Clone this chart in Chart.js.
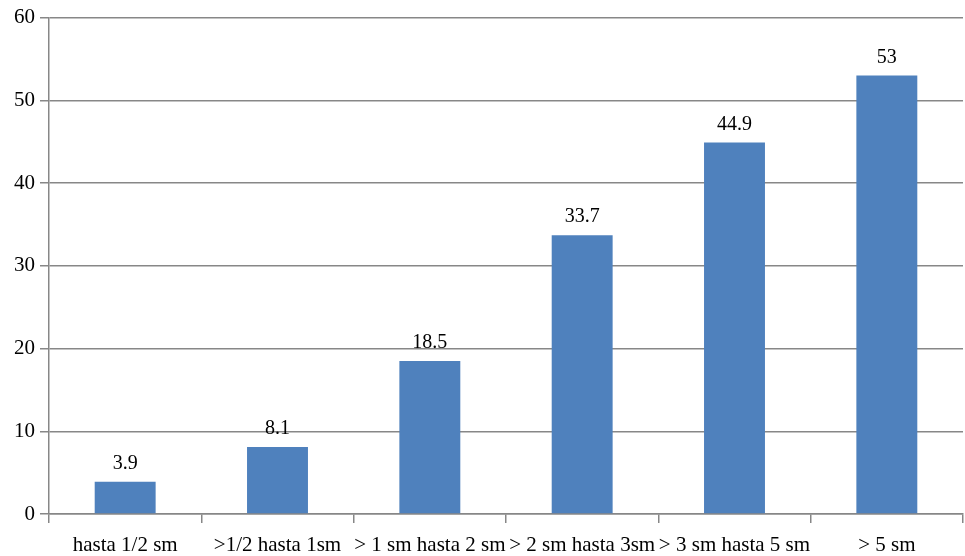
<!DOCTYPE html>
<html>
<head>
<meta charset="utf-8">
<script src="https://cdn.jsdelivr.net/npm/chart.js@4/dist/chart.umd.min.js"></script>
<style>
  html, body { margin: 0; padding: 0; background: #fff; }
  #wrap { width: 965px; height: 556px; }
</style>
</head>
<body>
<div id="wrap"><canvas id="barChart"></canvas></div>
<script>
const categories = ['hasta 1/2 sm', '>1/2 hasta 1sm', '> 1 sm hasta 2 sm', '> 2 sm hasta 3sm', '> 3 sm hasta 5 sm', '> 5 sm'];
const values = [3.9, 8.1, 18.5, 33.7, 44.9, 53];
const yTicks = [0, 10, 20, 30, 40, 50, 60];

const serif = 'Liberation Serif, "Times New Roman", serif';
const gridColor = '#878787';

// etiquetas de valor encima de cada barra
const valueLabels = {
    id: 'valueLabels',
    afterDatasetsDraw(chart) {
        const ctx = chart.ctx;
        const meta = chart.getDatasetMeta(0);
        ctx.save();
        ctx.font = '20px ' + serif;
        ctx.fillStyle = '#000';
        ctx.textAlign = 'center';
        ctx.textBaseline = 'bottom';
        meta.data.forEach(function (bar, i) {
            ctx.fillText(String(values[i]), bar.x, bar.y - 8);
        });
        ctx.restore();
    }
};

const ctx = document.getElementById('barChart').getContext('2d');
new Chart(ctx, {
    type: 'bar',
    data: {
        labels: categories,
        datasets: [{
            data: values,
            backgroundColor: '#4F81BD',
            barPercentage: 0.4,
            categoryPercentage: 1
        }]
    },
    options: {
        responsive: true,
        maintainAspectRatio: false,
        animation: false,
        layout: { padding: { top: 8, right: 2, left: 0, bottom: 0 } },
        plugins: {
            legend: { display: false },
            tooltip: { enabled: false }
        },
        scales: {
            x: {
                offset: true,
                grid: {
                    offset: true,
                    drawOnChartArea: false,
                    drawTicks: true,
                    tickLength: 9,
                    color: gridColor,
                    lineWidth: 1.5
                },
                border: { color: gridColor, width: 1.5 },
                ticks: {
                    color: '#000',
                    font: { family: serif, size: 21 },
                    maxRotation: 0,
                    autoSkip: false,
                    padding: 10
                },
                afterFit(scale) { scale.height = 42; }
            },
            y: {
                min: 0,
                max: 60,
                afterBuildTicks(scale) {
                    scale.ticks = yTicks.map(v => ({ value: v }));
                },
                grid: {
                    color: gridColor,
                    lineWidth: 1.5,
                    tickLength: 9
                },
                border: { color: gridColor, width: 1.5 },
                ticks: {
                    color: '#000',
                    font: { family: serif, size: 21 },
                    padding: 5
                },
                afterFit(scale) { scale.width = 49; }
            }
        }
    },
    plugins: [valueLabels]
});
</script>
</body>
</html>
